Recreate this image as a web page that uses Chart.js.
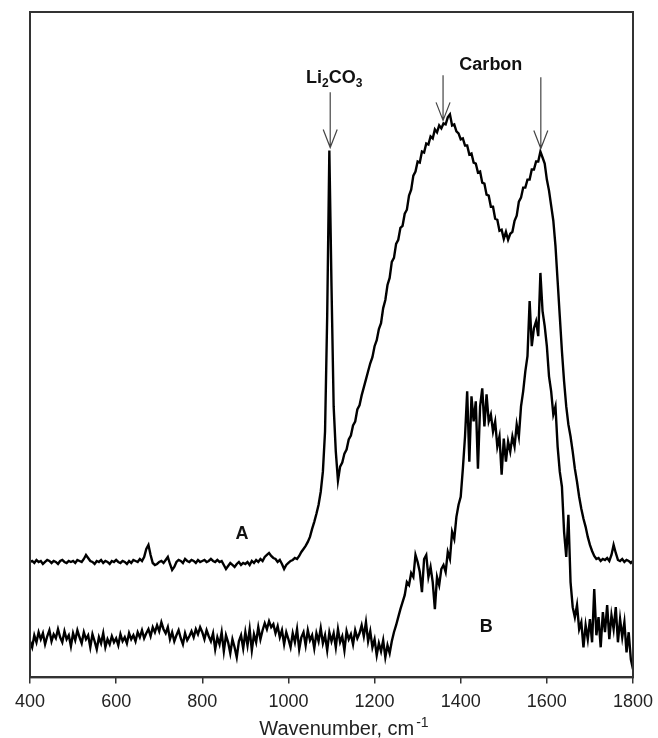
<!DOCTYPE html>
<html>
<head>
<meta charset="utf-8">
<script src="https://cdn.jsdelivr.net/npm/chart.js@4.4.1/dist/chart.umd.min.js"></script>
<style>
  html, body { margin: 0; padding: 0; background: #fff; }
</style>
</head>
<body>
<canvas id="ramanChart" width="658" height="738"></canvas>
<script>
// sampling grid, cm-1 (400 .. 1800, every 5)
const wavenumbers = Array.from({ length: 281 }, (_, i) => 400 + i * 5);

// spectrum A (upper trace), arbitrary intensity units
const spectrumA = [
  115,116,114,117,115,116,113,115,117,116,114,116,115,113,116,117,115,114,116,115, // 400
  116,114,117,116,115,118,122,119,116,115,113,116,115,117,114,116,115,113,116,115, // 500
  117,115,114,116,115,113,116,114,117,116,115,118,116,120,128,132,122,114,112,113, // 600
  115,116,114,117,120,113,107,110,115,117,116,114,118,116,115,117,116,114,117,115, // 700
  116,117,115,116,118,116,115,117,115,116,112,108,111,114,112,110,113,115,112,114, // 800
  113,115,112,116,114,117,115,118,116,120,122,124,121,119,118,115,117,113,108,112, // 900
  114,116,117,119,118,121,125,128,131,135,140,148,155,163,172,185,205,245,360,525, // 1000
  390,270,225,196,210,214,223,227,237,241,251,255,267,271,281,289,297,305,313,319, // 1100
  330,336,347,353,368,376,391,398,414,418,432,436,448,450,462,466,480,486,500,504, // 1200
  514,513,524,523,532,531,539,537,546,543,550,547,552,551,558,561,550,551,544,542, // 1300
  536,537,530,530,521,522,513,512,503,504,493,492,481,480,469,469,457,456,445,446, // 1400
  437,444,436,442,444,455,460,474,478,488,488,496,496,506,506,514,514,524,518,512, // 1500
  496,485,470,455,430,395,360,325,295,270,252,240,225,208,195,180,168,158,150,140, // 1600
  132,126,121,118,119,116,118,117,119,116,122,132,124,117,116,118,115,117,116,114, // 1700
  116
];

// spectrum B (lower trace)
const spectrumB = [
  36,30,42,35,45,38,44,33,41,47,36,43,39,48,40,35,46,38,42,31,          // 400
  44,37,47,40,34,45,38,42,30,43,36,28,40,34,44,30,38,33,41,35,          // 500
  39,32,43,36,40,34,44,38,42,36,45,40,47,39,44,48,41,50,45,52,          // 600
  46,55,48,44,50,38,45,36,42,47,39,33,44,37,41,46,40,48,43,50,          // 700
  45,38,47,41,36,44,28,40,33,45,26,42,35,24,38,30,20,36,42,29,          // 800
  45,32,48,27,43,35,50,38,47,54,48,56,50,53,44,51,40,47,33,45,          // 900
  38,30,44,35,48,28,40,45,32,47,37,42,29,44,36,49,34,42,27,45,          // 1000
  36,44,30,48,35,41,27,46,38,43,33,47,39,44,52,41,55,36,46,30,          // 1100
  38,22,34,26,37,20,32,24,36,45,52,60,68,75,82,95,92,104,100,122,       // 1200
  115,105,85,118,122,100,110,95,68,100,92,108,112,105,125,118,145,138,160,172, // 1300
  180,208,240,285,215,280,255,275,208,270,288,250,282,255,262,245,255,230,240,202, // 1400
  238,215,235,225,240,230,252,240,270,285,305,320,375,330,348,355,340,403,365,350, // 1500
  330,300,285,262,270,230,205,190,145,120,162,95,70,60,72,48,55,30,52,38, // 1600
  58,35,88,42,60,30,65,45,72,38,62,48,70,35,58,40,55,25,45,18,          // 1700
  8
];

const xTicks = [400, 600, 800, 1000, 1200, 1400, 1600, 1800];

// where the notes sit, in data units
const arrows = [
  { x: 1097, from: 583, to: 528 },
  { x: 1359, from: 600, to: 555 },
  { x: 1586, from: 598, to: 527 }
];
const traceLabels = [
  { text: 'A', x: 892, y: 138 },
  { text: 'B', x: 1459, y: 45 }
];

const FONT = 'Arial, "Liberation Sans", sans-serif';

const notes = {
  id: 'notes',
  afterDatasetsDraw(chart) {
    const { ctx, chartArea: a, scales: { x, y } } = chart;
    ctx.save();

    // box round the plot
    ctx.strokeStyle = '#333';
    ctx.lineWidth = 2;
    ctx.strokeRect(a.left, a.top, a.right - a.left, a.bottom - a.top);

    // arrows with open heads
    ctx.strokeStyle = '#444';
    ctx.lineWidth = 1.2;
    arrows.forEach(ar => {
      const px = x.getPixelForValue(ar.x);
      const y0 = y.getPixelForValue(ar.from);
      const y1 = y.getPixelForValue(ar.to);
      ctx.beginPath();
      ctx.moveTo(px, y0);
      ctx.lineTo(px, y1);
      ctx.moveTo(px - 7, y1 - 18);
      ctx.lineTo(px, y1);
      ctx.lineTo(px + 7, y1 - 18);
      ctx.stroke();
    });

    ctx.fillStyle = '#111';
    ctx.textBaseline = 'alphabetic';

    // Li2CO3 with subscripts
    const big = 'bold 18px ' + FONT, small = 'bold 12px ' + FONT;
    const parts = [['Li', big, 0], ['2', small, 4], ['CO', big, 0], ['3', small, 4]];
    let w = 0;
    parts.forEach(p => { ctx.font = p[1]; w += ctx.measureText(p[0]).width; });
    let cx = x.getPixelForValue(1097) - w / 2 + 4;
    const by = y.getPixelForValue(592);
    ctx.textAlign = 'left';
    parts.forEach(p => {
      ctx.font = p[1];
      ctx.fillText(p[0], cx, by + p[2]);
      cx += ctx.measureText(p[0]).width;
    });

    ctx.textAlign = 'center';
    ctx.font = big;
    ctx.fillText('Carbon', x.getPixelForValue(1470), y.getPixelForValue(605));

    traceLabels.forEach(l => {
      ctx.font = 'bold 18px ' + FONT;
      ctx.fillText(l.text, x.getPixelForValue(l.x), y.getPixelForValue(l.y));
    });

    // axis title with superscript
    const main = 'Wavenumber, cm', sup = '-1';
    ctx.fillStyle = '#222';
    ctx.font = '20px ' + FONT;
    const mw = ctx.measureText(main).width;
    ctx.font = '14px ' + FONT;
    const sw = ctx.measureText(sup).width;
    const tx = 344 - (mw + sw + 2) / 2;
    ctx.textAlign = 'left';
    ctx.font = '20px ' + FONT;
    ctx.fillText(main, tx, 735);
    ctx.font = '14px ' + FONT;
    ctx.fillText(sup, tx + mw + 2, 727);

    ctx.restore();
  }
};

const toPoints = vals => wavenumbers.map((w, i) => ({ x: w, y: vals[i] }));

new Chart(document.getElementById('ramanChart').getContext('2d'), {
  type: 'line',
  data: {
    datasets: [
      { label: 'A', data: toPoints(spectrumA), borderColor: '#000', borderWidth: 2.4, pointRadius: 0, tension: 0, fill: false },
      { label: 'B', data: toPoints(spectrumB), borderColor: '#000', borderWidth: 2.4, pointRadius: 0, tension: 0, fill: false }
    ]
  },
  options: {
    responsive: false,
    animation: false,
    layout: { padding: { left: 30, right: 25, top: 12, bottom: 17 } },
    plugins: { legend: { display: false }, tooltip: { enabled: false } },
    scales: {
      x: {
        type: 'linear',
        min: 400,
        max: 1800,
        afterBuildTicks: axis => { axis.ticks = xTicks.map(v => ({ value: v })); },
        // label overhang is already covered by the layout padding
        afterFit: axis => { axis.paddingLeft = 0; axis.paddingRight = 0; },
        ticks: { color: '#222', font: { family: FONT, size: 18 }, padding: 8, maxRotation: 0, callback: v => String(v) },
        grid: { drawOnChartArea: false, drawTicks: true, tickLength: 6, color: '#333', lineWidth: 1.5 },
        border: { display: true, color: '#333', width: 2 }
      },
      y: { display: false, min: 0, max: 663 }
    }
  },
  plugins: [notes]
});
</script>
</body>
</html>
